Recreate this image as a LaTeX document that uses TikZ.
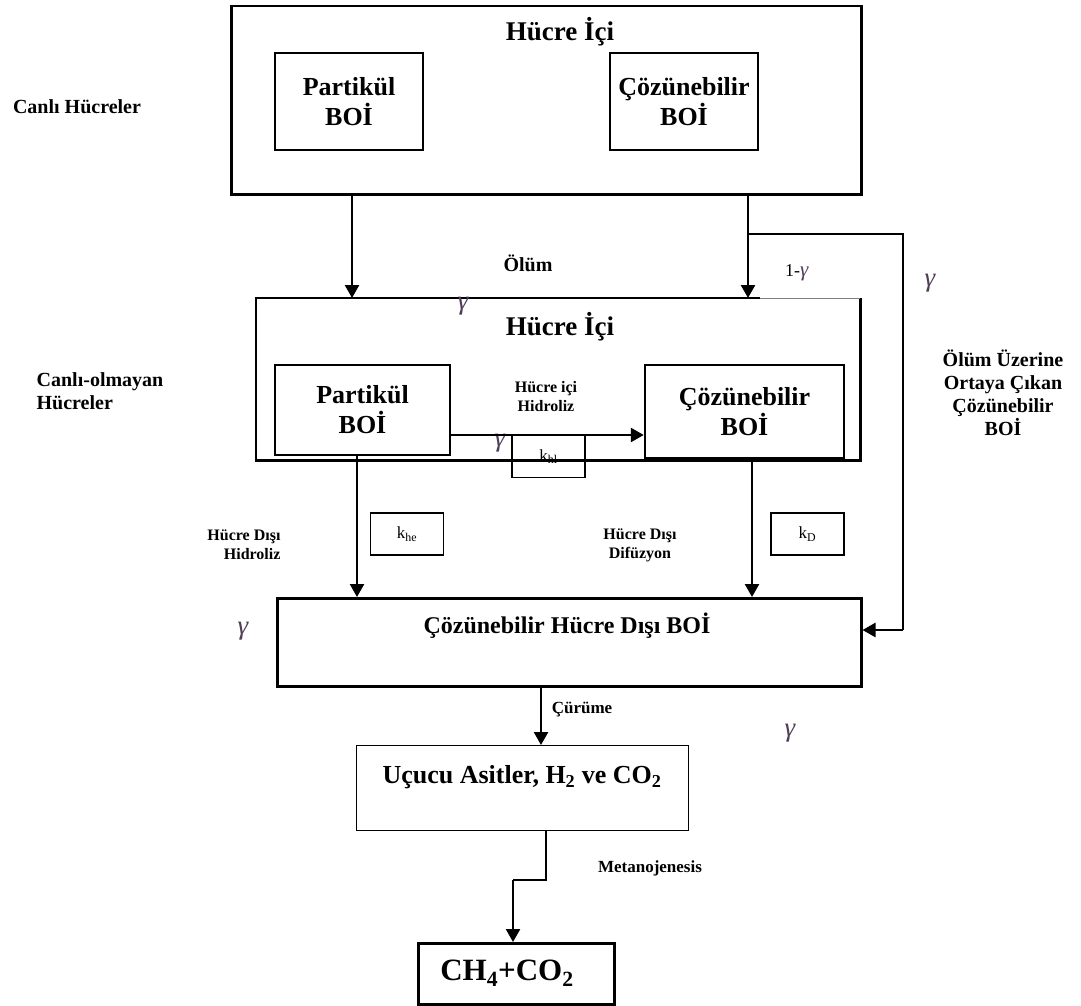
\documentclass[tikz,border=0pt]{standalone}
\usepackage{fontspec}
\setmainfont{Liberation Serif}
\usetikzlibrary{arrows.meta}
\definecolor{gam}{RGB}{80,62,88}
\begin{document}
\begin{tikzpicture}[x=1pt,y=-1pt,
  frame/.style={draw, line width=2.5pt, inner sep=0pt},
  thinframe/.style={draw, line width=1.4pt, inner sep=0pt},
  flow/.style={line width=2.5pt, -{Triangle[length=13pt,width=14pt]}},
  plain/.style={line width=2.5pt},
  bigbold/.style={font=\bfseries\fontsize{26}{30}\selectfont, align=center},
  title/.style={font=\bfseries\fontsize{27}{30}\selectfont},
  side/.style={font=\bfseries\fontsize{20}{23}\selectfont, align=left},
  small/.style={font=\bfseries\fontsize{16}{19}\selectfont, align=center},
  kbox/.style={draw, line width=1.4pt, inner sep=0pt, minimum width=73, minimum height=42,
               font=\fontsize{17}{19}\selectfont},
  gm/.style={text=gam, font=\itshape\fontsize{27}{27}\selectfont, inner sep=0pt}
]
\useasboundingbox (0,0) rectangle (1081,1006);

% --- living cells ---
\node[frame, anchor=north west, minimum width=630, minimum height=188] (top) at (230,5) {};
\node[title] (t1) at (560,32) {Hücre İçi};
\node[frame, bigbold, minimum width=148, minimum height=97] (pb1) at (349,101.5) {Partikül\\BOİ};
\node[frame, bigbold, minimum width=148, minimum height=97] (cb1) at (684,101.5) {Çözünebilir\\BOİ};
\node[side] (l1) at (77,107) {Canlı Hücreler};

% --- non-living cells ---
\node[anchor=north west, inner sep=0pt, minimum width=604, minimum height=162] (mid) at (256,298) {};
\coordinate (cut) at (760,298);
\draw[plain] (cut) -- (mid.north west) -- (mid.south west) -- (mid.south east) -- (mid.north east);
\draw[gray, line width=1pt] (cut) -- (mid.north east);
\node[title] (t2) at (560,327) {Hücre İçi};
\node[frame, bigbold, minimum width=175, minimum height=90] (pb2) at (362.5,410) {Partikül\\BOİ};
\node[frame, bigbold, minimum width=199, minimum height=93] (cb2) at (744.5,411.5) {Çözünebilir\\BOİ};
\node[side] (l2) at (100,391) {Canlı-olmayan\\Hücreler};
\node[small] (hh) at (546,397) {Hücre içi\\Hidroliz};

% --- extracellular soluble BOD ---
\node[frame, anchor=north west, minimum width=584, minimum height=88] (bot) at (276,597) {};
\node[font=\bfseries\fontsize{24}{28}\selectfont] (bt) at (567,626) {Çözünebilir Hücre Dışı BOİ};

% --- products ---
\node[thinframe, anchor=north west, minimum width=332, minimum height=85] (uc) at (356,745) {};
\node[font=\bfseries\fontsize{26}{30}\selectfont] (ut) at (522,777) {Uçucu Asitler, H\textsubscript{2} ve CO\textsubscript{2}};
\node[frame, anchor=north west, minimum width=196, minimum height=61] (ch) at (417,942) {};
\node[font=\bfseries\fontsize{31}{34}\selectfont] (ct) at (507,973) {CH\textsubscript{4}+CO\textsubscript{2}};

% --- rate boxes ---
\node[kbox] (khl) at (548.5,456.5) {k\textsubscript{hl}};
\node[kbox] (khe) at (407,534) {k\textsubscript{he}};
\node[kbox] (kd) at (807.5,534) {k\textsubscript{D}};

% --- labels ---
\node[font=\bfseries\fontsize{20}{23}\selectfont] (ol) at (528,263) {Ölüm};
\node[small, align=right, anchor=east] (hdh) at (284,545) {Hücre Dışı\\Hidroliz};
\node[small] (hdd) at (640,545) {Hücre Dışı\\Difüzyon};
\node[side, align=center] (ou) at (1003,393) {Ölüm Üzerine\\Ortaya Çıkan\\Çözünebilir\\BOİ};
\node[font=\bfseries\fontsize{17}{20}\selectfont] (cu) at (582,710) {Çürüme};
\node[font=\bfseries\fontsize{17}{20}\selectfont] (me) at (650,868) {Metanojenesis};
\node[font=\fontsize{18}{20}\selectfont, inner sep=0pt] (og) at (797,273) {1-\textcolor{gam}{\fontsize{21}{21}\selectfont\textit{γ}}};

% --- gamma marks ---
\node[gm] (g1) at (930,283) {γ};
\node[gm] (g2) at (463,306) {γ};
\node[gm] (g3) at (500,443) {γ};
\node[gm] (g4) at (243,631) {γ};
\node[gm] (g5) at (790,733) {γ};

% --- connectors ---
\coordinate (xa) at (352,0);
\coordinate (xb) at (748,0);
\coordinate (xc) at (357,0);
\coordinate (xd) at (752,0);
\coordinate (xe) at (541,0);
\coordinate (xf) at (546,0);
\coordinate (j1) at (748,234);
\coordinate (j2) at (903,234);
\coordinate (j3) at (903,630);
\coordinate (j4) at (546,880);
\coordinate (j5) at (513,880);

\draw[flow] (top.south -| xa) -- (mid.north -| xa);
\draw[flow] (top.south -| xb) -- (mid.north -| xb);
\draw[plain] (j1) -- (j2) -- (j3);
\draw[flow] (j3) -- (bot.east |- j3);
\draw[flow] (pb2.east |- 0,435) -- (cb2.west |- 0,435);
\draw[flow] (pb2.south -| xc) -- (bot.north -| xc);
\draw[flow] (cb2.south -| xd) -- (bot.north -| xd);
\draw[flow] (bot.south -| xe) -- (uc.north -| xe);
\draw[plain] (uc.south -| xf) -- (j4) -- (j5);
\draw[flow] (j5) -- (ch.north -| j5);
\end{tikzpicture}
\end{document}
